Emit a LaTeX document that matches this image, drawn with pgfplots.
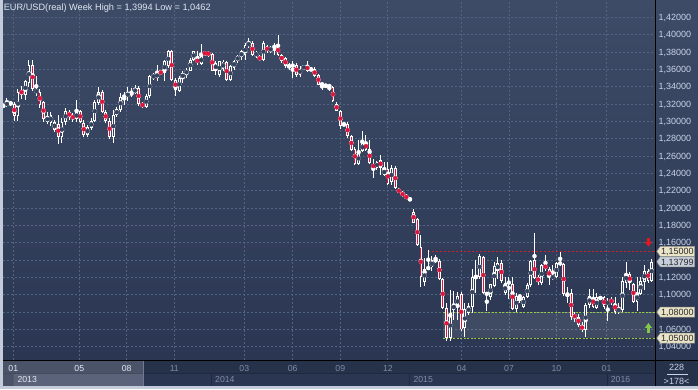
\documentclass[border=0pt]{standalone}
\usepackage{fontspec}
\setmainfont{Liberation Sans}
\usepackage{pgfplots}
\usepackage{pgfplotstable}
\pgfplotsset{compat=1.18}
\definecolor{bgtop}{RGB}{61,75,103}
\definecolor{bgbot}{RGB}{43,55,82}
\definecolor{bgmid}{RGB}{53,66,93}
\definecolor{gridc}{RGB}{84,99,130}
\definecolor{candred}{RGB}{222,20,60}
\definecolor{ylabc}{RGB}{200,212,232}
\definecolor{hilab}{RGB}{228,234,244}
\definecolor{lolab}{RGB}{125,140,165}
\definecolor{bandc}{RGB}{38,49,74}
\definecolor{yearc}{RGB}{43,55,82}
\definecolor{sepc}{RGB}{30,40,62}
\definecolor{framec}{RGB}{196,204,218}
\definecolor{beige}{RGB}{234,228,200}
\definecolor{curbox}{RGB}{200,207,220}
\definecolor{boxborder}{RGB}{150,150,140}
\definecolor{boxtext}{RGB}{40,40,40}
\definecolor{lvred}{RGB}{205,30,50}
\definecolor{lvgreen}{RGB}{150,200,60}
\definecolor{arrred}{RGB}{232,20,30}
\definecolor{arrgreen}{RGB}{130,200,70}
\definecolor{titlec}{RGB}{222,230,240}

\pgfplotstableread{
i o h l c
0 1.3178 1.3190 1.3170 1.3182
1 1.3181 1.3273 1.3169 1.3219
2 1.3200 1.3235 1.3180 1.3212
3 1.3197 1.3220 1.3004 1.3065
4 1.3065 1.3370 1.3000 1.3342
5 1.3361 1.3403 1.3255 1.3311
6 1.3304 1.3480 1.3250 1.3469
7 1.3438 1.3707 1.3400 1.3650
8 1.3650 1.3711 1.3350 1.3370
9 1.3330 1.3520 1.3290 1.3365
10 1.3342 1.3370 1.3150 1.3189
11 1.3227 1.3240 1.2990 1.3023
12 1.2996 1.3111 1.2969 1.3054
13 1.2982 1.3111 1.2950 1.3073
14 1.2900 1.3010 1.2880 1.2996
15 1.2969 1.3073 1.2740 1.2816
16 1.2816 1.3034 1.2750 1.2996
17 1.2996 1.3150 1.2960 1.3119
18 1.3104 1.3131 1.3015 1.3054
19 1.3073 1.3092 1.2996 1.3023
20 1.3023 1.3246 1.2996 1.3111
21 1.3119 1.3131 1.2977 1.2996
22 1.2977 1.3015 1.2816 1.2842
23 1.2842 1.2957 1.2816 1.2931
24 1.2920 1.3034 1.2900 1.3008
25 1.3008 1.3246 1.2990 1.3227
26 1.3208 1.3400 1.3190 1.3342
27 1.3342 1.3361 1.3092 1.3111
28 1.3111 1.3131 1.2977 1.3004
29 1.3008 1.3034 1.2793 1.2823
30 1.2816 1.3131 1.2754 1.3073
31 1.3073 1.3169 1.3054 1.3139
32 1.3131 1.3323 1.3111 1.3284
33 1.3284 1.3342 1.3189 1.3290
34 1.3284 1.3400 1.3235 1.3330
35 1.3310 1.3380 1.3284 1.3330
36 1.3330 1.3420 1.3310 1.3380
37 1.3385 1.3404 1.3173 1.3200
38 1.3212 1.3223 1.3154 1.3165
39 1.3165 1.3310 1.3150 1.3289
40 1.3289 1.3538 1.3270 1.3519
41 1.3500 1.3558 1.3480 1.3538
42 1.3500 1.3654 1.3470 1.3558
43 1.3577 1.3596 1.3538 1.3550
44 1.3558 1.3711 1.3470 1.3692
45 1.3635 1.3827 1.3615 1.3808
46 1.3815 1.3827 1.3462 1.3481
47 1.3481 1.3500 1.3289 1.3365
48 1.3354 1.3519 1.3339 1.3500
49 1.3492 1.3577 1.3442 1.3558
50 1.3538 1.3615 1.3500 1.3596
51 1.3584 1.3731 1.3577 1.3711
52 1.3711 1.3815 1.3692 1.3808
53 1.3723 1.3808 1.3654 1.3673
54 1.3665 1.3892 1.3646 1.3750
55 1.3800 1.3815 1.3750 1.3769
56 1.3800 1.3815 1.3738 1.3761
57 1.3777 1.3788 1.3577 1.3584
58 1.3584 1.3692 1.3538 1.3673
59 1.3538 1.3700 1.3508 1.3692
60 1.3600 1.3710 1.3580 1.3690
61 1.3684 1.3700 1.3462 1.3473
62 1.3473 1.3650 1.3460 1.3634
63 1.3615 1.3711 1.3596 1.3700
64 1.3700 1.3769 1.3673 1.3750
65 1.3738 1.3827 1.3711 1.3808
66 1.3761 1.3904 1.3711 1.3884
67 1.3865 1.3961 1.3846 1.3915
68 1.3904 1.3923 1.3750 1.3769
69 1.3750 1.3815 1.3731 1.3800
70 1.3750 1.3769 1.3692 1.3704
71 1.3704 1.3923 1.3692 1.3904
72 1.3865 1.3884 1.3788 1.3808
73 1.3815 1.3865 1.3788 1.3846
74 1.3850 1.3904 1.3769 1.3870
75 1.3884 1.3994 1.3750 1.3761
76 1.3769 1.3777 1.3673 1.3692
77 1.3731 1.3740 1.3615 1.3634
78 1.3634 1.3673 1.3596 1.3640
79 1.3640 1.3692 1.3500 1.3646
80 1.3654 1.3673 1.3508 1.3538
81 1.3538 1.3634 1.3508 1.3607
82 1.3600 1.3654 1.3590 1.3646
83 1.3646 1.3692 1.3570 1.3585
84 1.3600 1.3625 1.3577 1.3596
85 1.3607 1.3623 1.3508 1.3519
86 1.3538 1.3546 1.3415 1.3423
87 1.3430 1.3442 1.3365 1.3427
88 1.3400 1.3435 1.3390 1.3420
89 1.3410 1.3423 1.3346 1.3405
90 1.3392 1.3404 1.3223 1.3231
91 1.3200 1.3223 1.3116 1.3123
92 1.3123 1.3135 1.2915 1.2942
93 1.2960 1.2985 1.2950 1.2965
94 1.2969 1.2988 1.2808 1.2827
95 1.2827 1.2846 1.2662 1.2673
96 1.2685 1.2700 1.2500 1.2508
97 1.2508 1.2788 1.2500 1.2635
98 1.2654 1.2885 1.2646 1.2750
99 1.2762 1.2838 1.2654 1.2665
100 1.2685 1.2788 1.2508 1.2519
101 1.2508 1.2560 1.2346 1.2462
102 1.2462 1.2546 1.2442 1.2531
103 1.2558 1.2616 1.2385 1.2462
104 1.2377 1.2531 1.2366 1.2454
105 1.2454 1.2531 1.2262 1.2277
106 1.2300 1.2492 1.2270 1.2462
107 1.2462 1.2480 1.2215 1.2227
108 1.2216 1.2227 1.2170 1.2181
109 1.2177 1.2200 1.2131 1.2142
110 1.2150 1.2165 1.2100 1.2104
111 1.2104 1.2104 1.2097 1.2100
112 1.1958 1.1985 1.1824 1.1831
113 1.1870 1.1881 1.1562 1.1573
114 1.1554 1.1689 1.1093 1.1208
115 1.1151 1.1420 1.1101 1.1293
116 1.1300 1.1516 1.1293 1.1315
117 1.1315 1.1446 1.1277 1.1400
118 1.1400 1.1458 1.1370 1.1393
119 1.1393 1.1408 1.1170 1.1177
120 1.1177 1.1189 1.0831 1.0843
121 1.0843 1.0900 1.0462 1.0497
122 1.0497 1.1055 1.0470 1.0793
123 1.0823 1.1047 1.0708 1.0893
124 1.0862 1.1035 1.0708 1.0985
125 1.1008 1.1035 1.0585 1.0600
126 1.0612 1.0900 1.0516 1.0840
127 1.0785 1.0900 1.0766 1.0870
128 1.0862 1.1293 1.0793 1.1200
129 1.1200 1.1400 1.1016 1.1205
130 1.1200 1.1470 1.1177 1.1446
131 1.1439 1.1446 1.1008 1.1016
132 1.1016 1.1024 1.0816 1.1005
133 1.0978 1.1124 1.0939 1.1123
134 1.1100 1.1381 1.1093 1.1331
135 1.1277 1.1431 1.1177 1.1362
136 1.1362 1.1400 1.1131 1.1162
137 1.1016 1.1208 1.0997 1.1131
138 1.1131 1.1208 1.0950 1.1150
139 1.1123 1.1208 1.0823 1.0831
140 1.0831 1.1016 1.0804 1.0985
141 1.0985 1.1000 1.0900 1.0980
142 1.0862 1.0985 1.0843 1.0970
143 1.0970 1.1131 1.0958 1.1112
144 1.1112 1.1400 1.1093 1.1393
145 1.1400 1.1714 1.1177 1.1189
146 1.1200 1.1227 1.1112 1.1150
147 1.1139 1.1354 1.1112 1.1343
148 1.1354 1.1458 1.1277 1.1293
149 1.1293 1.1323 1.1112 1.1200
150 1.1189 1.1343 1.1170 1.1216
151 1.1200 1.1381 1.1189 1.1370
152 1.1354 1.1497 1.1331 1.1370
153 1.1354 1.1370 1.0985 1.1008
154 1.1008 1.1093 1.0900 1.1000
155 1.1024 1.1062 1.0708 1.0739
156 1.0777 1.0804 1.0689 1.0727
157 1.0747 1.0777 1.0631 1.0650
158 1.0650 1.0689 1.0574 1.0593
159 1.0593 1.0900 1.0516 1.0881
160 1.0881 1.1062 1.0843 1.0985
161 1.0978 1.1062 1.0843 1.0862
162 1.0843 1.1016 1.0831 1.0970
163 1.0955 1.0985 1.0940 1.0970
164 1.0978 1.0985 1.0831 1.0854
165 1.0881 1.0958 1.0700 1.0931
166 1.0947 1.0978 1.0881 1.0908
167 1.0908 1.0978 1.0777 1.0804
168 1.0804 1.0900 1.0777 1.0843
169 1.0823 1.1199 1.0804 1.1155
170 1.1131 1.1381 1.1074 1.1254
171 1.1239 1.1266 1.1054 1.1131
172 1.1124 1.1131 1.0908 1.0920
173 1.0920 1.1200 1.0816 1.1016
174 1.1008 1.1208 1.0997 1.1162
175 1.1150 1.1343 1.1054 1.1277
176 1.1277 1.1293 1.1139 1.1162
177 1.1162 1.1408 1.1150 1.1380
}\candles

\newcommand{\pbox}[3]{%
  \filldraw[fill=#3, draw=boxborder, line width=0.5pt] (656.8,#1) -- (660.3,#1+5) -- (694.5,#1+5) -- (694.5,#1-5) -- (660.3,#1-5) -- cycle;
  \node[anchor=base west, inner sep=0pt, font=\fontsize{9}{10}\selectfont, text=boxtext] at (661,#1-3.2) {#2};}

\begin{document}
\begin{tikzpicture}[x=1pt,y=1pt]
\useasboundingbox (0,0) rectangle (698,389);
% background
\shade[top color=bgtop, bottom color=bgbot] (0,29) rectangle (698,389);
% time band
\fill[bandc] (0,0) rectangle (698,29);
\fill[yearc] (13.3,3) rectangle (655,15.3);
\foreach \xx in {13.3,211.5,409.5,607} {\draw[sepc, line width=0.8pt] (\xx,3) -- (\xx,15.3);}
\draw[sepc, line width=0.6pt] (3,15.3) -- (655,15.3);
\fill[white, opacity=0.17] (3,3) rectangle (143.5,28);
\fill[white, opacity=0.07] (13.3,3) rectangle (143.5,15.3);
\draw[color={rgb,255:red,110;green,122;blue,148}, line width=1.2pt] (143.8,3) -- (143.8,28);

\begin{axis}[
  at={(3pt,29pt)}, anchor=south west, scale only axis,
  width=652pt, height=360pt,
  xmin=-0.08, xmax=177.9, ymin=1.02473, ymax=1.43995,
  clip=true,
  axis line style={draw=none},
  major tick length=0pt,
  grid=major,
  major grid style={gridc, dash pattern=on 2pt off 2pt, line width=0.9pt},
  xtick={2.73,20.75,33.69,46.68,65.79,79.0,92.0,105.0,125.14,138.06,151.0,164.66},
  xticklabels={{\textcolor{hilab}{01}},{\textcolor{hilab}{05}},{\textcolor{hilab}{08}},11,03,06,09,12,04,07,10,01},
  xticklabel style={anchor=base, yshift=-11pt, inner sep=0pt, font=\fontsize{8.7}{10}\selectfont, text=lolab},
  ytick={1.04,1.06,1.10,1.12,1.16,1.18,1.20,1.22,1.24,1.26,1.28,1.30,1.32,1.34,1.36,1.38,1.40,1.42},
  extra y ticks={1.08,1.14},
  extra y tick labels={},
  extra y tick style={grid=major, major tick length=0pt},
  yticklabel pos=right,
  yticklabel style={anchor=base west, xshift=3.3pt, yshift=-3.2pt, inner sep=0pt, font=\fontsize{9}{10}\selectfont, text=ylabc,
    /pgf/number format/.cd, fixed, fixed zerofill, precision=5, use comma, assume math mode=true},
]
% level zone
\addplot[draw=none, fill=white, fill opacity=0.09] coordinates {(120,1.05) (177.9,1.05) (177.9,1.08) (120,1.08)} -- cycle;
\addplot[lvred, line width=0.9pt, dash pattern=on 2pt off 2pt] coordinates {(115.9,1.15) (177.9,1.15)};
\addplot[lvgreen, line width=0.9pt, dash pattern=on 2pt off 1.5pt] coordinates {(120,1.08) (177.9,1.08)};
\addplot[lvgreen, line width=0.9pt, dash pattern=on 2pt off 1.5pt] coordinates {(120,1.05) (177.9,1.05)};
% wicks
\addplot[only marks, mark=none, white,
  error bars/.cd, y dir=both, y explicit, error mark=none,
  error bar style={line width=1pt, white}]
  table[x=i, y expr={(\thisrow{h}+\thisrow{l})/2}, y error expr={(\thisrow{h}-\thisrow{l})/2}] {\candles};
% bodies
\addplot[only marks, mark=none, white,
  error bars/.cd, y dir=both, y explicit, error mark=none,
  error bar style={line width=2.8pt, white}]
  table[x=i, y expr={(\thisrow{o}+\thisrow{c})/2}, y error expr={max(abs(\thisrow{o}-\thisrow{c})/2,0.0006)}] {\candles};
% down interiors
\addplot[only marks, mark=none, candred,
  restrict expr to domain={\thisrow{o}-\thisrow{c}}{0.0024:1},
  error bars/.cd, y dir=both, y explicit, error mark=none,
  error bar style={line width=1pt, candred}]
  table[x=i, y expr={(\thisrow{o}+\thisrow{c})/2}, y error expr={abs(\thisrow{o}-\thisrow{c})/2-0.00105}] {\candles};
% up interiors (hollow)
\addplot[only marks, mark=none, bgmid,
  restrict expr to domain={\thisrow{c}-\thisrow{o}}{0.0024:1},
  error bars/.cd, y dir=both, y explicit, error mark=none,
  error bar style={line width=1pt, bgmid}]
  table[x=i, y expr={(\thisrow{o}+\thisrow{c})/2}, y error expr={abs(\thisrow{o}-\thisrow{c})/2-0.00105}] {\candles};
\end{axis}

% price boxes
\pbox{137.6}{1,15000}{beige}
\pbox{127.2}{1,13799}{curbox}
\pbox{76.9}{1,08000}{beige}
\pbox{50.9}{1,05000}{beige}

% arrows
\fill[arrred] (647.3,146.8) rectangle (649.5,151.5);
\fill[arrred] (644.8,147.2) -- (652,147.2) -- (648.4,142.3) -- cycle;
\fill[arrgreen] (647.3,56.3) rectangle (649.5,61.5);
\fill[arrgreen] (644.8,61.1) -- (652,61.1) -- (648.4,66.0) -- cycle;

% title
\node[anchor=base west, inner sep=0pt, text=titlec, font=\fontsize{9.2}{11}\selectfont] at (3.6,378.4) {EUR/USD(real) Week High = 1,3994 Low = 1,0462};

% year labels
\node[anchor=base west, inner sep=0pt, text=hilab, font=\fontsize{8.7}{10}\selectfont] at (17.3,6.4) {2013};
\node[anchor=base west, inner sep=0pt, text=lolab, font=\fontsize{8.7}{10}\selectfont] at (215,6.4) {2014};
\node[anchor=base west, inner sep=0pt, text=lolab, font=\fontsize{8.7}{10}\selectfont] at (413.3,6.4) {2015};
\node[anchor=base west, inner sep=0pt, text=lolab, font=\fontsize{8.7}{10}\selectfont] at (610.7,6.4) {2016};

% bottom-right counter
\node[anchor=base, inner sep=0pt, text=ylabc, font=\fontsize{9}{10}\selectfont] at (676.5,18.8) {228};
\draw[ylabc, line width=0.6pt] (667,15) -- (687.5,15);
\node[anchor=base, inner sep=0pt, text=ylabc, font=\fontsize{9}{10}\selectfont] at (676.5,4.6) {>178<};

% separators and frame
\draw[black, line width=1.3pt] (3,28.5) -- (698,28.5);
\draw[black, line width=1.2pt] (655.5,3) -- (655.5,389);
\fill[framec] (0,0) rectangle (3,389);
\fill[framec] (0,0) rectangle (698,3);
\end{tikzpicture}
\end{document}
